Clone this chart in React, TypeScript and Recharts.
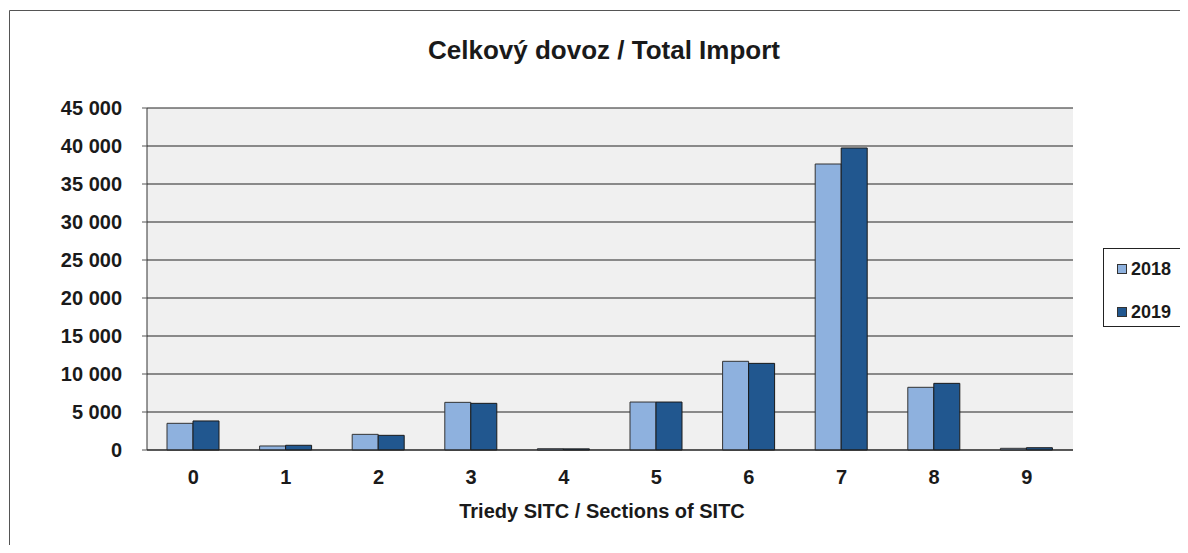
// Celkový dovoz / Total Import — grouped bars by SITC section

import { BarChart, Bar, XAxis, YAxis, CartesianGrid } from 'recharts'

const sections = ['0', '1', '2', '3', '4', '5', '6', '7', '8', '9']
const import2018 = [3510, 530, 2060, 6270, 170, 6310, 11670, 37630, 8250, 220]
const import2019 = [3820, 620, 1930, 6140, 150, 6310, 11400, 39740, 8770, 300]
const yTicks = [0, 5000, 10000, 15000, 20000, 25000, 30000, 35000, 40000, 45000]

const FONT = '"Liberation Sans", Arial, sans-serif'
const LIGHT = '#8EB1DE'
const DARK = '#21578F'

const chartData = sections.map((s, i) => ({
  name: s,
  y2018: import2018[i],
  y2019: import2019[i],
}))

const fmt = (v: number) => String(v).replace(/\B(?=(\d{3})+(?!\d))/g, ' ')

function LegendBox() {
  const item = (color: string, label: string, top: number) => (
    <div style={{ position: 'absolute', left: 13, top, display: 'flex', alignItems: 'center' }}>
      <span style={{ width: 8, height: 8, background: color, border: '1px solid #333', marginRight: 4 }} />
      <span style={{ fontFamily: FONT, fontWeight: 'bold', fontSize: 18, color: '#1a1a1a', lineHeight: '18px' }}>{label}</span>
    </div>
  )
  return (
    <div
      style={{
        position: 'absolute',
        left: 1103,
        top: 248,
        width: 77,
        height: 77,
        border: '1px solid #222',
        background: '#fff',
      }}
    >
      {item(LIGHT, '2018', 11)}
      {item(DARK, '2019', 54)}
    </div>
  )
}

export default function App() {
  return (
    <div style={{ position: 'relative', width: 1188, height: 553, margin: -8, overflow: 'hidden', background: '#fff' }}>
      {/* outer frame: only the left and top edges show in the picture */}
      <svg width={1188} height={553} style={{ position: 'absolute', left: 0, top: 0 }}>
        <path d="M9.5 553 V10.5 H1188" fill="none" stroke="#555" strokeWidth={1} />
      </svg>
      <div
        style={{
          position: 'absolute',
          left: 604,
          top: 37,
          transform: 'translateX(-50%)',
          whiteSpace: 'nowrap',
          fontFamily: FONT,
          fontWeight: 'bold',
          fontSize: 26,
          lineHeight: '26px',
          color: '#1a1a1a',
        }}
      >
        Celkový dovoz / Total Import
      </div>
      <div style={{ position: 'absolute', left: 0, top: 0 }}>
        <BarChart
          width={1188}
          height={553}
          data={chartData}
          margin={{ top: 108, right: 115, bottom: 73, left: 0 }}
          barGap={0}
          barSize={26}
        >
          <CartesianGrid vertical={false} fill="#F0F0F0" stroke="#222" strokeOpacity={1} />
          <XAxis
            dataKey="name"
            height={30}
            tickSize={0}
            tickMargin={20}
            tickLine={false}
            axisLine={{ stroke: '#222' }}
            tick={{ fontFamily: FONT, fontWeight: 'bold', fontSize: 20, fill: '#1a1a1a' }}
          />
          <YAxis
            width={147}
            domain={[0, 45000]}
            ticks={yTicks}
            interval={0}
            tickFormatter={fmt}
            tickSize={5}
            tickMargin={20}
            tickLine={{ stroke: '#555' }}
            axisLine={{ stroke: '#333' }}
            tick={{ fontFamily: FONT, fontWeight: 'bold', fontSize: 20, fill: '#1a1a1a' }}
          />
          <YAxis
            yAxisId="frame"
            orientation="right"
            width={0}
            domain={[0, 45000]}
            tick={false}
            tickLine={false}
            axisLine={{ stroke: '#888', strokeWidth: 2 }}
          />
          <Bar dataKey="y2018" fill={LIGHT} stroke="#333" strokeWidth={1} isAnimationActive={false} />
          <Bar dataKey="y2019" fill={DARK} stroke="#1a1a1a" strokeWidth={1} isAnimationActive={false} />
        </BarChart>
      </div>
      <div
        style={{
          position: 'absolute',
          left: 602,
          top: 501,
          transform: 'translateX(-50%)',
          whiteSpace: 'nowrap',
          fontFamily: FONT,
          fontWeight: 'bold',
          fontSize: 20,
          lineHeight: '20px',
          color: '#1a1a1a',
        }}
      >
        Triedy SITC / Sections of SITC
      </div>
      <LegendBox />
    </div>
  )
}
